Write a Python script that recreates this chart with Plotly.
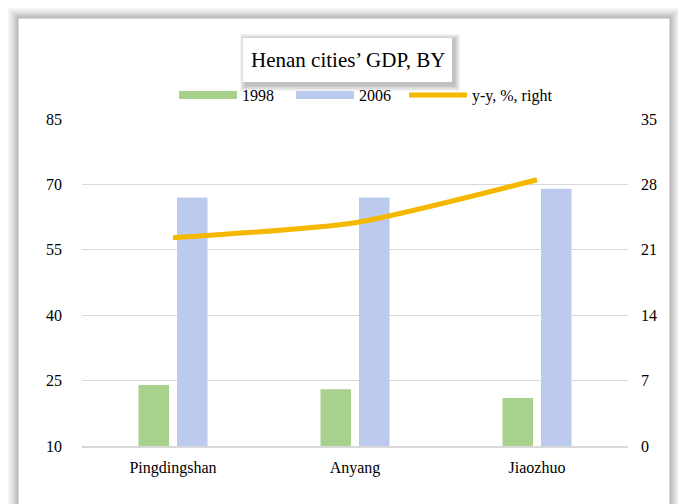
import plotly.graph_objects as go

cities = ["Pingdingshan", "Anyang", "Jiaozhuo"]
gdp_1998 = [24, 23, 21]
gdp_2006 = [67, 67, 69]
yy_pct = [22.3, 23.9, 28.5]
left_ticks = [10, 25, 40, 55, 70, 85]
right_ticks = [0, 7, 14, 21, 28, 35]

OFF = 8  # default page body margin
W, H = 686 - OFF, 504 - OFF
# plot area in page pixels
PL, PR, PT, PB = 82, 628, 119, 446
L, R, T, B = PL - OFF, PR - OFF, PT - OFF, PB - OFF


def px(x):
    return (x - PL) / (PR - PL)


def py(y):
    return (PB - y) / (PB - PT)


FONT = "Liberation Serif, Times New Roman, serif"
C98, C06, CLINE = "#a9d18e", "#bccbed", "#f5b800"

fig = go.Figure()
fig.add_trace(go.Bar(name="1998", x=cities, y=gdp_1998, legendgroup="a", showlegend=False,
                     marker=dict(color=C98, line=dict(width=0))))
fig.add_trace(go.Bar(name="2006", x=cities, y=gdp_2006, legendgroup="b", showlegend=False,
                     marker=dict(color=C06, line=dict(width=0))))
fig.add_trace(go.Scatter(name="y-y, %, right", x=cities, y=yy_pct, yaxis="y2", mode="lines",
                         legendgroup="c", showlegend=False,
                         line=dict(color=CLINE, width=5, shape="spline", smoothing=0.6)))
# legend-only entries (wide swatches like the original)
fig.add_trace(go.Scatter(name="1998", x=[None], y=[None], mode="lines", legendgroup="a",
                         line=dict(color=C98, width=8), legend="legend"))
fig.add_trace(go.Scatter(name="2006", x=[None], y=[None], mode="lines", legendgroup="b",
                         line=dict(color=C06, width=8), legend="legend"))
fig.add_trace(go.Scatter(name="y-y, %, right", x=[None], y=[None], mode="lines", legendgroup="c",
                         line=dict(color=CLINE, width=5), legend="legend2"))

shapes = []
# outer panel shadow
for d in range(0, 13):
    a = 0.30 * (1 - d / 13) ** 1.6
    shapes.append(dict(type="rect", xref="paper", yref="paper",
                       x0=px(18 - d), x1=px(670 + d), y0=py(530 + d), y1=py(18 - d),
                       line=dict(color=f"rgba(0,0,0,{a:.3f})", width=1), layer="below"))
# title box shadow
for d in range(1, 7):
    shapes.append(dict(type="rect", xref="paper", yref="paper",
                       x0=px(243 + 3 - d), x1=px(452 + 2 + d), y0=py(82 + 3 + d), y1=py(38 + 2 - d),
                       fillcolor="rgba(0,0,0,0.045)", line=dict(width=0), layer="below"))
shapes.append(dict(type="rect", xref="paper", yref="paper",
                   x0=px(243), x1=px(452), y0=py(82), y1=py(38),
                   fillcolor="white", line=dict(width=0), layer="below"))

legend_common = dict(orientation="h", y=py(95), yanchor="middle", xanchor="left",
                     font=dict(family=FONT, size=16), bgcolor="rgba(0,0,0,0)",
                     itemwidth=58, traceorder="normal")

fig.update_layout(
    width=W, height=H,
    margin=dict(l=L, r=W - R, t=T, b=H - B, autoexpand=False),
    paper_bgcolor="white", plot_bgcolor="rgba(0,0,0,0)",
    font=dict(family=FONT, size=16, color="#000000"),
    barmode="group", bargap=0.577, bargroupgap=0.208,
    showlegend=True,
    legend=dict(x=px(174), entrywidth=44, entrywidthmode="pixels", **legend_common),
    legend2=dict(x=px(404), **legend_common),
    xaxis=dict(type="category", showgrid=False, showline=True, linecolor="#d9d9d9", linewidth=1.5,
               ticks="", tickfont=dict(size=16), ticklabelstandoff=6, zeroline=False),
    yaxis=dict(range=[10, 85], tickvals=left_ticks, ticktext=[str(v) for v in left_ticks],
               showgrid=True, gridcolor="#d9d9d9", gridwidth=1.2, zeroline=False, showline=False,
               ticks="", ticklabelstandoff=19, tickfont=dict(size=16)),
    yaxis2=dict(range=[0, 35], tickvals=right_ticks, ticktext=[str(v) for v in right_ticks],
                overlaying="y", side="right", showgrid=False, zeroline=False, showline=False,
                ticks="", ticklabelstandoff=12, tickfont=dict(size=16)),
    shapes=shapes,
    annotations=[dict(text="Henan cities’ GDP, BY", xref="paper", yref="paper",
                      x=px(347.5), y=py(60), xanchor="center", yanchor="middle", showarrow=False,
                      font=dict(family=FONT, size=21, color="#000000"))],
)

fig.write_html("out.html")
